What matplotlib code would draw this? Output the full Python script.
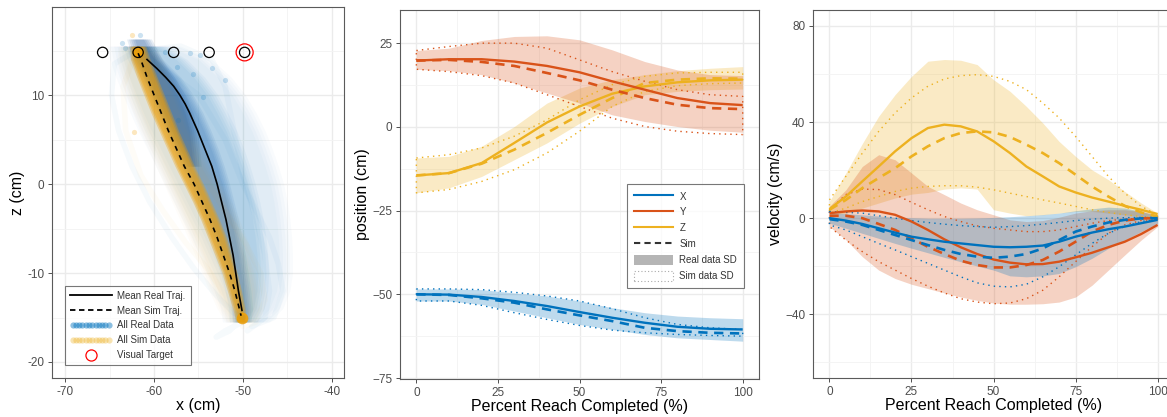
import matplotlib
matplotlib.use("Agg")
import matplotlib.pyplot as plt
import numpy as np
from matplotlib.lines import Line2D
from matplotlib.patches import Patch
from matplotlib.legend_handler import HandlerLine2D
from matplotlib.ticker import MultipleLocator, FuncFormatter

plt.rcParams['font.family'] = ['Liberation Sans', 'DejaVu Sans']

C_X = "#0072BD"
C_Y = "#D95319"
C_Z = "#EDB120"
C_SIMDOT = "#F5A000"

# ---------- top view: trajectories ----------
real_mean_x = [-60.8, -59.7, -58.7, -57.8, -57.1, -56.5, -56.0, -55.1, -54.3, -53.5, -52.9, -52.4, -51.9, -51.5, -51.1, -50.8, -50.5, -50.1]
real_mean_z = [14.0, 13.0, 12.0, 11.0, 10.0, 9.0, 8.0, 6.0, 4.0, 2.0, 0.0, -2.0, -4.0, -6.0, -8.0, -10.0, -12.0, -14.2]
sim_mean_x = [-61.8, -61.5, -60.8, -60.0, -59.2, -58.4, -57.5, -56.6, -55.5, -54.6, -53.7, -52.9, -52.2, -51.5, -50.9, -50.4, -50.2]
sim_mean_z = [14.7, 14.0, 12.0, 10.0, 8.0, 6.0, 4.0, 2.0, 0.0, -2.0, -4.0, -6.0, -8.0, -10.0, -12.0, -14.0, -14.8]

# envelopes of all recorded / simulated samples
cloud_z = [15.5, 14, 12, 10, 8, 6, 4, 2, 0, -2, -4, -6, -8, -10, -12, -14, -15.5]
blue_haze_left = [-63.8, -63.5, -62.8, -62.0, -61.2, -60.3, -59.3, -58.3, -57.3, -56.3, -55.3, -54.3, -53.4, -52.5, -51.7, -51.0, -50.8]
blue_haze_right = [-58.5, -55.0, -52.8, -51.2, -50.0, -49.0, -48.2, -47.5, -46.9, -46.5, -46.2, -46.0, -45.9, -45.9, -46.2, -47.0, -48.5]
blue_dense_left = [-62.3, -61.8, -60.7, -59.8, -58.9, -58.0, -57.1, -56.2, -55.3, -54.4, -53.5, -52.7, -52.0, -51.3, -50.8, -50.4, -50.3]
blue_dense_right = [-61.0, -59.8, -57.8, -56.4, -55.3, -54.4, -53.6, -52.9, -52.3, -51.8, -51.3, -50.9, -50.5, -50.2, -49.9, -49.7, -49.9]
blue_light_right = [-60.0, -57.5, -55.5, -54.0, -52.9, -51.9, -51.1, -50.4, -49.8, -49.3, -48.9, -48.6, -48.4, -48.3, -48.4, -48.8, -49.6]
core_z = [16.3, 15, 14, 12, 10, 8, 6, 4, 2]
blue_core_left = [-62.2, -61.8, -61.3, -60.3, -59.4, -58.5, -57.6, -56.6, -55.6]
blue_core_right = [-61.2, -60.5, -60.0, -58.6, -57.4, -56.5, -56.0, -55.8, -55.6]
orange_haze_left = [-63.0, -63.2, -62.8, -62.2, -61.4, -60.6, -59.7, -58.8, -57.9, -57.0, -56.1, -55.2, -54.4, -53.6, -52.8, -51.9, -51.0]
orange_haze_right = [-60.8, -60.0, -59.0, -58.0, -57.2, -56.4, -55.4, -54.4, -53.3, -52.3, -51.4, -50.6, -49.9, -49.3, -48.9, -48.9, -49.4]
orange_left = [-62.4, -62.3, -61.6, -60.8, -60.0, -59.1, -58.2, -57.3, -56.3, -55.3, -54.4, -53.6, -52.8, -52.0, -51.4, -50.8, -50.4]
orange_right = [-61.3, -60.8, -60.0, -59.2, -58.4, -57.6, -56.7, -55.8, -54.8, -53.9, -53.0, -52.2, -51.6, -51.0, -50.5, -50.1, -50.0]

# stray reaches
real_stray = [
    ([-61.5, -57, -53.5, -52, -51, -50, -48.5, -47.5, -47, -47.5, -49.5],
     [15, 15.5, 14, 11, 6, 1, -4, -8, -12, -15, -16.5]),
    ([-62, -64.5, -64.8, -64, -62.5, -60.5, -58, -55.5, -53, -51, -50],
     [15, 13.5, 10, 6, 2, -2, -6, -9.5, -12.5, -14.5, -15]),
    ([-50, -51.5, -53, -52, -50], [-15, -16.5, -17.2, -16.5, -15.5]),
    ([-61, -55, -52, -50, -48.5, -47, -46, -45.5, -46.5, -49],
     [14.5, 10, 5, 0, -3, -6, -9, -12, -15, -16]),
]
sim_stray = [
    ([-62, -63.5, -63.2, -61.5, -59, -56.5, -54, -52, -50.5],
     [15, 11, 6, 1, -3, -6.5, -9.5, -12.5, -15]),
    ([-61.8, -59.5, -57, -54.5, -52, -49.5, -48, -47.5, -48.5, -50],
     [14.5, 10, 5.5, 1, -3, -7, -10, -13, -15.5, -16]),
]
real_dots_x = [-63.6, -63.3, -61.6, -57.4, -56.0, -55.6, -54.8, -54.5, -52.0, -57.3, -53.5, -58.8]
real_dots_z = [15.8, 15.3, 16.7, 13.2, 14.7, 12.4, 14.5, 9.8, 11.7, 7.2, 13.0, 14.8]
sim_dots_x = [-62.3, -62.5]
sim_dots_z = [5.9, 16.7]
# where the simulated reaches pile up (start and end)
sim_ends_x = [-61.8, -50.1]
sim_ends_z = [14.8, -15.0]

target_x = [-65.8, -61.8, -57.8, -53.8, -49.8]
target_z = [14.8, 14.8, 14.8, 14.8, 14.8]
visual_x = -49.8
visual_z = 14.8

# ---------- position over the reach ----------
pct_pos = [0, 10, 20, 30, 40, 50, 60, 70, 80, 90, 100]
pos = {
    "X": dict(real=[-50.0, -50.1, -50.8, -52.0, -53.5, -55.3, -57.0, -58.5, -59.7, -60.3, -60.5],
              sim=[-50.0, -50.2, -51.2, -52.5, -54.5, -56.3, -58.0, -60.0, -61.0, -61.5, -61.7],
              real_lo=[-52.0, -52.0, -53.0, -55.0, -57.0, -59.0, -60.5, -62.0, -63.0, -63.5, -64.0],
              real_hi=[-48.4, -48.4, -48.6, -49.6, -50.5, -52.0, -54.0, -55.5, -56.5, -57.0, -57.3],
              sim_lo=[-52.0, -52.0, -53.3, -55.5, -57.5, -59.3, -60.7, -61.5, -62.0, -62.3, -62.5],
              sim_hi=[-48.4, -48.4, -48.6, -49.4, -50.5, -52.0, -54.3, -57.0, -59.0, -60.0, -60.5]),
    "Y": dict(real=[19.8, 20.2, 20.2, 19.5, 18.2, 16.3, 13.6, 11.1, 8.6, 7.1, 6.5],
              sim=[19.8, 20.0, 19.4, 18.2, 16.1, 13.9, 11.1, 8.6, 6.6, 5.6, 5.3],
              real_lo=[17.2, 16.8, 15.6, 13.1, 10.1, 7.1, 3.6, 1.6, 0.1, -1.0, -1.6],
              real_hi=[22.8, 23.5, 25.8, 27.0, 27.2, 26.0, 23.0, 19.5, 17.0, 15.6, 15.3],
              sim_lo=[17.2, 16.5, 15.3, 13.1, 9.6, 6.1, 2.6, 0.1, -1.3, -2.0, -2.3],
              sim_hi=[22.8, 24.0, 25.0, 25.0, 23.5, 20.0, 16.5, 13.6, 11.1, 9.6, 9.1]),
    "Z": dict(real=[-14.5, -13.8, -10.8, -4.8, 1.3, 6.1, 9.9, 12.1, 13.3, 13.9, 14.1],
              sim=[-14.5, -13.8, -11.0, -6.8, -1.8, 3.6, 8.6, 13.1, 14.1, 14.5, 14.4],
              real_lo=[-19.7, -18.2, -14.8, -9.8, -4.8, 1.1, 6.1, 9.6, 10.6, 11.1, 11.3],
              real_hi=[-9.3, -8.8, -5.8, 0.1, 7.1, 11.6, 14.1, 15.6, 16.8, 17.5, 18.0],
              sim_lo=[-19.7, -18.7, -16.3, -12.8, -7.8, -1.3, 6.1, 10.6, 12.3, 12.9, 13.1],
              sim_hi=[-9.3, -8.3, -6.3, -2.8, 2.1, 8.1, 12.6, 15.1, 16.1, 16.3, 16.3]),
}

# ---------- velocity over the reach ----------
pct_vel = [0, 5, 10, 15, 20, 25, 30, 35, 40, 45, 50, 55, 60, 65, 70, 75, 80, 85, 90, 95, 100]
vel = {
    "X": dict(real=[0, -1, -2.4, -4.2, -6, -7.7, -8.8, -9.8, -10.5, -11.2, -11.9, -12.1, -11.9, -11.4, -9.8, -7.7, -6, -4.6, -3.5, -2.1, -0.7],
              sim=[-0.4, -1.4, -2.8, -4.9, -7, -9.1, -11.2, -13.2, -14.9, -16, -16.5, -16, -14.9, -12.6, -9.1, -5.6, -3.5, -1.8, -0.7, -0.1, 0],
              real_lo=[-2.1, -4.2, -6.3, -8.4, -10.5, -12.5, -14.4, -16.3, -18.1, -19.9, -21.6, -24.0, -24.4, -24.0, -23.0, -20.2, -16.7, -12.6, -9.1, -5.6, -2.1],
              real_hi=[2.4, 1.9, 1.4, 0.9, 0.4, 0.2, 0, 0, 0, 0.1, 0.3, 0.6, 1, 1.5, 2.1, 3.1, 3.9, 4.6, 4.2, 2.8, 1],
              sim_lo=[-2.8, -4.9, -7.7, -10.5, -13.2, -16, -18.8, -21.6, -24.4, -26.9, -28.3, -28.6, -27.5, -24.4, -20.2, -15.3, -10.5, -6.3, -3.5, -1.4, -0.4],
              sim_hi=[2.8, 2.4, 2.1, 1, 0, -1, -1.8, -2.5, -3.1, -3.5, -3.8, -3.5, -3.1, -2.5, -1.8, -1, -0.4, 0, 0.2, 0.3, 0.4]),
    "Y": dict(real=[2.1, 2.8, 3.2, 2.8, 1.4, -1.4, -4.9, -8.8, -12.1, -14.9, -17.2, -18.5, -19.2, -19.1, -18.1, -16.3, -14.4, -12.1, -9.8, -6.6, -2.8],
              sim=[1, 1, 0, -2.4, -4.9, -8.4, -11.9, -14.9, -17.7, -19.5, -20.5, -20.5, -19.5, -17.4, -13.9, -9.8, -5.6, -2.8, -1, -0.1, 0],
              real_lo=[-3.5, -9, -16, -21.6, -25.1, -27.5, -29.3, -31.1, -32.8, -34.2, -35.3, -35.8, -35.8, -35.6, -34.9, -32.8, -27.9, -21.6, -15.3, -9.1, -3.5],
              real_hi=[5, 11.8, 21.5, 26.4, 24.3, 18.8, 13.2, 9.8, 6.3, 3.5, 1.4, -0.7, -1.4, -1, 0.4, 2.1, 3.1, 3.5, 3.5, 2.8, 1.4],
              sim_lo=[-3.5, -9.1, -13.9, -18.1, -21.6, -25.1, -28.3, -31.1, -33.5, -34.9, -35.6, -35.3, -33.5, -30, -24.4, -18.1, -11.9, -6.3, -2.8, -1, -0.4],
              sim_hi=[3.5, 9.8, 12.1, 11.9, 9.8, 6.6, 3.5, 0.7, -1.4, -3.2, -4.2, -4.9, -5.6, -5.6, -4.9, -3.5, -2.1, -1, -0.4, 0, 0.4]),
    "Z": dict(real=[3.8, 9.0, 15.3, 21.5, 27.8, 33.3, 37.5, 38.9, 38.2, 36.1, 32, 27.1, 21.5, 17.4, 13.2, 10.7, 8.6, 6.9, 5.1, 3.5, 1.7],
              sim=[3.5, 7.6, 12.5, 16.7, 20.8, 25.7, 29.9, 33.3, 35.4, 36.1, 35.7, 33.8, 30.6, 27.1, 22.9, 18.1, 13.2, 9.0, 5.1, 2.4, 0.7],
              real_lo=[1.4, 2.1, 4.2, 6.3, 8.4, 10, 10.7, 12.1, 12.6, 12.1, 3.5, 2.1, 1, 1.4, 2.1, 2.8, 2.8, 2.1, 1.4, 0.7, 0],
              real_hi=[7, 18.8, 31, 42.4, 51.4, 59, 65.3, 66, 65.7, 63.9, 57.6, 52.8, 46.5, 39.6, 31.9, 25.7, 20.1, 16, 11.1, 6.3, 2.1],
              sim_lo=[2.1, 4.2, 6.9, 9, 11.1, 12.5, 13.2, 13.5, 13.5, 12.9, 11.8, 10.4, 9, 7.6, 6.3, 4.9, 3.5, 2.4, 1.4, 0.7, 0],
              sim_hi=[7.6, 17.4, 27, 36.1, 43.8, 50, 54.9, 57.9, 59.3, 59.7, 59, 56.9, 53.5, 47.9, 41.7, 34, 25.7, 17.4, 10.4, 4.9, 1.4]),
}
dim_colors = {"X": C_X, "Y": C_Y, "Z": C_Z}


def style_axes(ax):
    ax.set_facecolor("white")
    for s in ax.spines.values():
        s.set_color("#5a5a5a")
        s.set_linewidth(0.8)
    ax.tick_params(which="major", colors="#333333", labelcolor="#4d4d4d",
                   labelsize=8.5, length=3, width=0.6, pad=2.5)
    ax.tick_params(which="minor", length=0)
    ax.grid(which="major", color="#ebebeb", lw=1.0)
    ax.grid(which="minor", color="#f3f3f3", lw=0.6)
    ax.set_axisbelow(True)


def soft_fill(ax, z, left, right, color, alpha, spread, steps=5):
    # stack slightly widened copies so the envelope edge fades out
    left = np.asarray(left)
    right = np.asarray(right)
    for k in np.linspace(0, spread, steps):
        ax.fill_betweenx(z, left - k, right + k, color=color, alpha=alpha / steps, lw=0)


def draw_reach_panel(ax, pct, data):
    # real SD ribbons, then sim SD outlines, then means
    for d in ["Z", "Y", "X"]:
        ax.fill_between(pct, data[d]["real_lo"], data[d]["real_hi"],
                        color=dim_colors[d], alpha=0.26, lw=0)
    for d in ["Z", "Y", "X"]:
        xs = list(pct) + list(pct[::-1]) + [pct[0]]
        ys = list(data[d]["sim_hi"]) + list(data[d]["sim_lo"][::-1]) + [data[d]["sim_hi"][0]]
        ax.plot(xs, ys, color=dim_colors[d], lw=1.0, ls=(0, (1, 3)))
    for d in ["Z", "Y", "X"]:
        ax.plot(pct, data[d]["real"], color=dim_colors[d], lw=1.7, solid_capstyle="butt")
        ax.plot(pct, data[d]["sim"], color=dim_colors[d], lw=1.9, ls=(0, (3.5, 2.5)))


fig = plt.figure(figsize=(11.67, 4.17), dpi=100)

# ---- panel 1 ----
ax1 = fig.add_axes([0.0446, 0.0935, 0.2502, 0.8897])
style_axes(ax1)
for (sx, sz) in real_stray:
    ax1.plot(sx, sz, color=C_X, alpha=0.035, lw=4, solid_capstyle="round")
for (sx, sz) in sim_stray:
    ax1.plot(sx, sz, color=C_SIMDOT, alpha=0.03, lw=4, solid_capstyle="round")
soft_fill(ax1, cloud_z, blue_haze_left, blue_haze_right, C_X, 0.12, 1.5)
soft_fill(ax1, cloud_z, blue_dense_left, blue_light_right, C_X, 0.22, 1.2)
soft_fill(ax1, cloud_z, blue_dense_left, blue_dense_right, "#1a62b0", 0.42, 0.8)
soft_fill(ax1, core_z, blue_core_left, blue_core_right, "#14509c", 0.5, 0.9)
ax1.scatter(real_dots_x, real_dots_z, s=14, color=C_X, alpha=0.2, lw=0)
soft_fill(ax1, cloud_z, orange_haze_left, orange_haze_right, C_SIMDOT, 0.12, 1.0)
soft_fill(ax1, cloud_z, orange_left, orange_right, C_SIMDOT, 0.92, 0.35, steps=3)
ax1.scatter(sim_ends_x, sim_ends_z, s=70, color=C_SIMDOT, alpha=0.85, lw=0)
ax1.scatter(sim_dots_x, sim_dots_z, s=14, color=C_SIMDOT, alpha=0.25, lw=0)
ax1.plot(real_mean_x, real_mean_z, color="black", lw=1.2)
ax1.plot(sim_mean_x, sim_mean_z, color="black", lw=1.2, ls=(0, (3, 3)))
ax1.scatter(target_x, target_z, s=55, facecolors="none", edgecolors="black", lw=0.9, zorder=5)
ax1.scatter([visual_x], [visual_z], s=150, facecolors="none", edgecolors="red", lw=0.9, zorder=5)

ax1.set_xlim(-71.5, -38.6)
ax1.set_ylim(-21.8, 19.9)
ax1.set_xticks([-70, -60, -50, -40])
ax1.set_yticks([-20, -10, 0, 10])
ax1.xaxis.set_minor_locator(MultipleLocator(5))
ax1.yaxis.set_minor_locator(MultipleLocator(5))
ax1.xaxis.set_major_formatter(FuncFormatter(lambda v, p: f"{v:.0f}"))
ax1.yaxis.set_major_formatter(FuncFormatter(lambda v, p: f"{v:.0f}"))
ax1.set_xlabel("x (cm)", fontsize=11.5, labelpad=0.5)
ax1.set_ylabel("z (cm)", fontsize=11.5, labelpad=2)

h_real = Line2D([], [], color="black", lw=1.3)
h_sim = Line2D([], [], color="black", lw=1.3, ls=(0, (3, 2)))
h_rdat = Line2D([], [], ls="", marker="o", ms=4.5, color=C_X, alpha=0.45, mew=0)
h_sdat = Line2D([], [], ls="", marker="o", ms=4.5, color=C_Z, alpha=0.35, mew=0)
h_tgt = Line2D([], [], ls="", marker="o", ms=8, mfc="none", mec="red", mew=0.9)
leg1 = ax1.legend([h_real, h_sim, h_rdat, h_sdat, h_tgt],
                  ["Mean Real Traj.", "Mean Sim Traj.", "All Real Data", "All Sim Data", "Visual Target"],
                  handler_map={h_rdat: HandlerLine2D(numpoints=12), h_sdat: HandlerLine2D(numpoints=12)},
                  loc="lower left", bbox_to_anchor=(0.044, 0.035), borderaxespad=0,
                  fontsize=7, frameon=True, fancybox=False, edgecolor="#555555",
                  handlelength=4.3, labelspacing=0.5, borderpad=0.5, handletextpad=0.6)
leg1.get_frame().set_linewidth(0.8)
for t in leg1.get_texts():
    t.set_color("#333333")

# ---- panel 2 ----
ax2 = fig.add_axes([0.3428, 0.0911, 0.3076, 0.8849])
style_axes(ax2)
draw_reach_panel(ax2, pct_pos, pos)
ax2.set_xlim(-5, 105)
ax2.set_ylim(-75.3, 34.9)
ax2.set_xticks([0, 25, 50, 75, 100])
ax2.set_yticks([-75, -50, -25, 0, 25])
ax2.xaxis.set_minor_locator(MultipleLocator(12.5))
ax2.yaxis.set_minor_locator(MultipleLocator(12.5))
ax2.set_xlabel("Percent Reach Completed (%)", fontsize=11.5, labelpad=0.5)
ax2.set_ylabel("position (cm)", fontsize=11.5, labelpad=2)

leg_handles = [
    Line2D([], [], color=C_X, lw=1.5),
    Line2D([], [], color=C_Y, lw=1.5),
    Line2D([], [], color=C_Z, lw=1.5),
    Line2D([], [], color="#333333", lw=1.5, ls=(0, (3, 2))),
    Patch(facecolor="#b5b5b5", edgecolor="none"),
    Patch(facecolor="none", edgecolor="#aaaaaa", ls=(0, (1, 2)), lw=0.8),
]
leg2 = ax2.legend(leg_handles, ["X", "Y", "Z", "Sim", "Real data SD", "Sim data SD"],
                  loc="upper left", bbox_to_anchor=(0.632, 0.528), borderaxespad=0,
                  fontsize=7, frameon=True, fancybox=False, edgecolor="#555555",
                  handlelength=4.0, handleheight=1.3, labelspacing=0.55,
                  borderpad=0.7, handletextpad=0.7)
leg2.get_frame().set_linewidth(0.8)
for t in leg2.get_texts():
    t.set_color("#333333")

# ---- panel 3 ----
ax3 = fig.add_axes([0.6967, 0.0935, 0.3093, 0.8825])
style_axes(ax3)
draw_reach_panel(ax3, pct_vel, vel)
ax3.set_xlim(-5, 105)
ax3.set_ylim(-66.5, 86.6)
ax3.set_xticks([0, 25, 50, 75, 100])
ax3.set_yticks([-40, 0, 40, 80])
ax3.xaxis.set_minor_locator(MultipleLocator(12.5))
ax3.yaxis.set_minor_locator(MultipleLocator(20))
ax3.set_xlabel("Percent Reach Completed (%)", fontsize=11.5, labelpad=0.5)
ax3.set_ylabel("velocity (cm/s)", fontsize=11.5, labelpad=2)

fig.savefig("out.png", dpi=100, facecolor="white")
